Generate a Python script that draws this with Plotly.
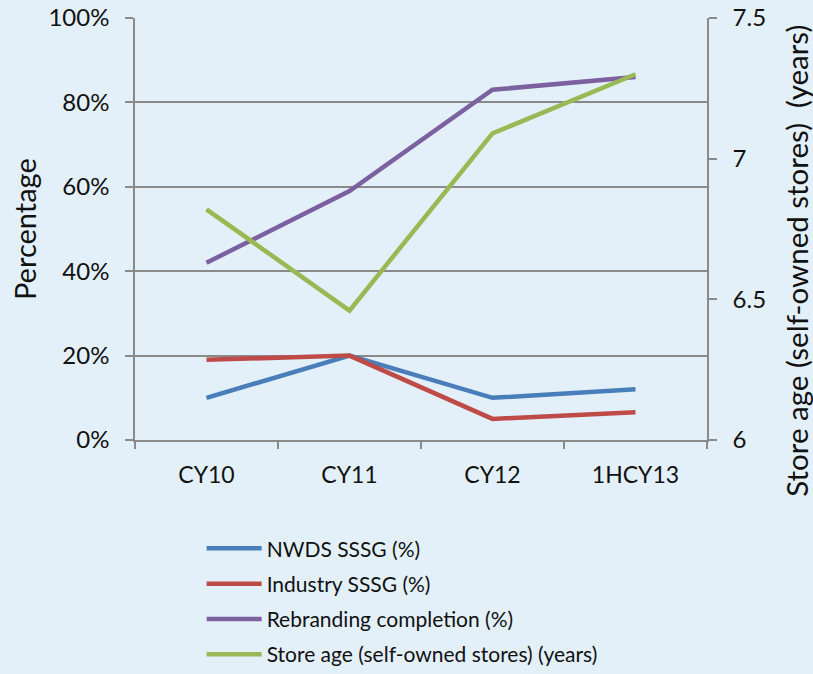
import plotly.graph_objects as go

categories = ["CY10", "CY11", "CY12", "1HCY13"]
nwds_sssg = [10, 20, 10, 12]
industry_sssg = [19, 20, 5, 6.6]
rebranding = [42, 59, 83, 86]
store_age = [6.82, 6.46, 7.09, 7.30]

left_ticks = [0, 20, 40, 60, 80, 100]
left_labels = ["0%", "20%", "40%", "60%", "80%", "100%"]
right_ticks = [6, 6.5, 7, 7.5]
right_labels = ["6", "6.5", "7", "7.5"]

FONT = "Lato"
GRID = "#8a8a8a"

fig = go.Figure()
series = [
    ("NWDS SSSG (%)", nwds_sssg, "#4a7ebb", "y"),
    ("Industry SSSG (%)", industry_sssg, "#be4b48", "y"),
    ("Rebranding completion (%)", rebranding, "#7d60a0", "y"),
    ("Store age (self-owned stores) (years)", store_age, "#98b954", "y2"),
]
for i, (name, vals, col, ax) in enumerate(series):
    fig.add_trace(go.Scatter(
        x=categories, y=vals, name=name, mode="lines", yaxis=ax,
        line=dict(color=col, width=4.5), legendgroup=f"g{i}",
    ))

fig.update_layout(
    width=813, height=674,
    margin=dict(l=135, r=106, t=18, b=234, autoexpand=False),
    paper_bgcolor="#e3f0f9",
    plot_bgcolor="rgba(0,0,0,0)",
    font=dict(family=FONT, size=23, color="#111111"),
    showlegend=True,
    legend=dict(
        x=0.1165, y=-0.209, xanchor="left", yanchor="top",
        bgcolor="rgba(0,0,0,0)", font=dict(size=21, family=FONT),
        traceorder="grouped", tracegroupgap=5, itemwidth=55,
    ),
    xaxis=dict(
        type="category", showline=True, linecolor=GRID, linewidth=1.5,
        ticks="outside", tickson="boundaries", ticklen=7, tickcolor=GRID, tickwidth=1.5,
        showgrid=False, tickfont=dict(size=23), ticklabelstandoff=14,
        range=[-0.5, 3.5], automargin=False,
    ),
    yaxis=dict(
        range=[0, 100], tickvals=left_ticks, ticktext=left_labels,
        showline=True, linecolor=GRID, linewidth=1.5,
        ticks="outside", ticklen=8, tickcolor=GRID, tickwidth=1.5,
        showgrid=True, gridcolor=GRID, gridwidth=1.5, zeroline=False,
        tickfont=dict(size=24), ticklabelstandoff=11, automargin=False,
    ),
    yaxis2=dict(
        range=[6, 7.5], tickvals=right_ticks, ticktext=right_labels,
        overlaying="y", side="right",
        showline=True, linecolor=GRID, linewidth=1.5,
        ticks="outside", ticklen=8, tickcolor=GRID, tickwidth=1.5,
        showgrid=False, zeroline=False,
        tickfont=dict(size=24), ticklabelstandoff=11, automargin=False,
    ),
    annotations=[
        dict(text="Percentage", textangle=-90, xref="paper", yref="paper",
             x=-0.194, y=0.5, xanchor="center", yanchor="middle",
             showarrow=False, font=dict(size=29)),
        dict(text="Store age (self-owned stores)  (years)", textangle=-90,
             xref="paper", yref="paper", x=1.155, y=0.424,
             xanchor="center", yanchor="middle",
             showarrow=False, font=dict(size=29.5)),
    ],
)

fig.write_html(
    "out.html",
    config={"displayModeBar": False},
    post_script="document.body.style.margin='0';document.body.style.background='#e3f0f9';",
)
